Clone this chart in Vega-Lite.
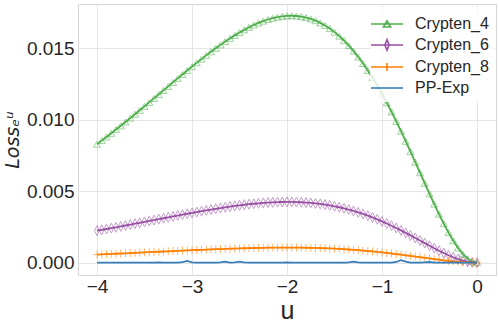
{
"$schema": "https://vega.github.io/schema/vega-lite/v6.json",
"width": 418, "height": 271,
"autosize": {"type": "none"},
"padding": {"left": 78, "top": 4, "right": 3, "bottom": 50},
"background": "white",
"config": {
  "font": "Liberation Sans",
  "view": {"stroke": "#d6d6d6", "strokeWidth": 1},
  "axis": {"grid": true, "gridColor": "#e5e5e5", "gridWidth": 1, "domain": false, "ticks": false, "labelFontSize": 19, "labelColor": "#262626", "labelFont": "Liberation Sans", "titleColor": "#262626", "titleFontWeight": "normal"}
},
"data": {"values": [
{"u":-4,"s":"Crypten_4","v":0.008293},{"u":-3.95,"s":"Crypten_4","v":0.008543},{"u":-3.9,"s":"Crypten_4","v":0.008796},{"u":-3.85,"s":"Crypten_4","v":0.009053},{"u":-3.8,"s":"Crypten_4","v":0.009314},{"u":-3.75,"s":"Crypten_4","v":0.009578},{"u":-3.7,"s":"Crypten_4","v":0.009845},{"u":-3.65,"s":"Crypten_4","v":0.010115},{"u":-3.6,"s":"Crypten_4","v":0.010387},{"u":-3.55,"s":"Crypten_4","v":0.010662},{"u":-3.5,"s":"Crypten_4","v":0.010938},{"u":-3.45,"s":"Crypten_4","v":0.011216},{"u":-3.4,"s":"Crypten_4","v":0.011495},{"u":-3.35,"s":"Crypten_4","v":0.011775},{"u":-3.3,"s":"Crypten_4","v":0.012055},{"u":-3.25,"s":"Crypten_4","v":0.012335},{"u":-3.2,"s":"Crypten_4","v":0.012615},{"u":-3.15,"s":"Crypten_4","v":0.012893},{"u":-3.1,"s":"Crypten_4","v":0.013169},{"u":-3.05,"s":"Crypten_4","v":0.013444},{"u":-3,"s":"Crypten_4","v":0.013715},{"u":-2.95,"s":"Crypten_4","v":0.013983},{"u":-2.9,"s":"Crypten_4","v":0.014246},{"u":-2.85,"s":"Crypten_4","v":0.014504},{"u":-2.8,"s":"Crypten_4","v":0.014757},{"u":-2.75,"s":"Crypten_4","v":0.015003},{"u":-2.7,"s":"Crypten_4","v":0.015241},{"u":-2.65,"s":"Crypten_4","v":0.015471},{"u":-2.6,"s":"Crypten_4","v":0.015693},{"u":-2.55,"s":"Crypten_4","v":0.015904},{"u":-2.5,"s":"Crypten_4","v":0.016104},{"u":-2.45,"s":"Crypten_4","v":0.016292},{"u":-2.4,"s":"Crypten_4","v":0.016467},{"u":-2.35,"s":"Crypten_4","v":0.016628},{"u":-2.3,"s":"Crypten_4","v":0.016774},{"u":-2.25,"s":"Crypten_4","v":0.016903},{"u":-2.2,"s":"Crypten_4","v":0.017016},{"u":-2.15,"s":"Crypten_4","v":0.017109},{"u":-2.1,"s":"Crypten_4","v":0.017183},{"u":-2.05,"s":"Crypten_4","v":0.017237},{"u":-2,"s":"Crypten_4","v":0.017268},{"u":-1.95,"s":"Crypten_4","v":0.017277},{"u":-1.9,"s":"Crypten_4","v":0.017261},{"u":-1.85,"s":"Crypten_4","v":0.017219},{"u":-1.8,"s":"Crypten_4","v":0.017152},{"u":-1.75,"s":"Crypten_4","v":0.017056},{"u":-1.7,"s":"Crypten_4","v":0.016932},{"u":-1.65,"s":"Crypten_4","v":0.016779},{"u":-1.6,"s":"Crypten_4","v":0.016595},{"u":-1.55,"s":"Crypten_4","v":0.016379},{"u":-1.5,"s":"Crypten_4","v":0.016131},{"u":-1.45,"s":"Crypten_4","v":0.01585},{"u":-1.4,"s":"Crypten_4","v":0.015536},{"u":-1.35,"s":"Crypten_4","v":0.015188},{"u":-1.3,"s":"Crypten_4","v":0.014806},{"u":-1.25,"s":"Crypten_4","v":0.01439},{"u":-1.2,"s":"Crypten_4","v":0.013939},{"u":-1.15,"s":"Crypten_4","v":0.013455},{"u":-1.1,"s":"Crypten_4","v":0.012937},{"u":-1.05,"s":"Crypten_4","v":0.012387},{"u":-1,"s":"Crypten_4","v":0.011805},{"u":-0.95,"s":"Crypten_4","v":0.011194},{"u":-0.9,"s":"Crypten_4","v":0.010555},{"u":-0.85,"s":"Crypten_4","v":0.00989},{"u":-0.8,"s":"Crypten_4","v":0.009203},{"u":-0.75,"s":"Crypten_4","v":0.008495},{"u":-0.7,"s":"Crypten_4","v":0.007772},{"u":-0.65,"s":"Crypten_4","v":0.007037},{"u":-0.6,"s":"Crypten_4","v":0.006297},{"u":-0.55,"s":"Crypten_4","v":0.005555},{"u":-0.5,"s":"Crypten_4","v":0.00482},{"u":-0.45,"s":"Crypten_4","v":0.004099},{"u":-0.4,"s":"Crypten_4","v":0.0034},{"u":-0.35,"s":"Crypten_4","v":0.002732},{"u":-0.3,"s":"Crypten_4","v":0.002107},{"u":-0.25,"s":"Crypten_4","v":0.001536},{"u":-0.2,"s":"Crypten_4","v":0.001031},{"u":-0.15,"s":"Crypten_4","v":0.000609},{"u":-0.1,"s":"Crypten_4","v":0.000284},{"u":-0.05,"s":"Crypten_4","v":0.000075},{"u":0,"s":"Crypten_4","v":0},
{"u":-4,"s":"Crypten_6","v":0.00224},{"u":-3.95,"s":"Crypten_6","v":0.002299},{"u":-3.9,"s":"Crypten_6","v":0.002359},{"u":-3.85,"s":"Crypten_6","v":0.002419},{"u":-3.8,"s":"Crypten_6","v":0.00248},{"u":-3.75,"s":"Crypten_6","v":0.002541},{"u":-3.7,"s":"Crypten_6","v":0.002603},{"u":-3.65,"s":"Crypten_6","v":0.002666},{"u":-3.6,"s":"Crypten_6","v":0.002729},{"u":-3.55,"s":"Crypten_6","v":0.002792},{"u":-3.5,"s":"Crypten_6","v":0.002856},{"u":-3.45,"s":"Crypten_6","v":0.00292},{"u":-3.4,"s":"Crypten_6","v":0.002983},{"u":-3.35,"s":"Crypten_6","v":0.003047},{"u":-3.3,"s":"Crypten_6","v":0.003111},{"u":-3.25,"s":"Crypten_6","v":0.003175},{"u":-3.2,"s":"Crypten_6","v":0.003238},{"u":-3.15,"s":"Crypten_6","v":0.003301},{"u":-3.1,"s":"Crypten_6","v":0.003363},{"u":-3.05,"s":"Crypten_6","v":0.003425},{"u":-3,"s":"Crypten_6","v":0.003486},{"u":-2.95,"s":"Crypten_6","v":0.003546},{"u":-2.9,"s":"Crypten_6","v":0.003605},{"u":-2.85,"s":"Crypten_6","v":0.003662},{"u":-2.8,"s":"Crypten_6","v":0.003718},{"u":-2.75,"s":"Crypten_6","v":0.003773},{"u":-2.7,"s":"Crypten_6","v":0.003826},{"u":-2.65,"s":"Crypten_6","v":0.003876},{"u":-2.6,"s":"Crypten_6","v":0.003925},{"u":-2.55,"s":"Crypten_6","v":0.003971},{"u":-2.5,"s":"Crypten_6","v":0.004014},{"u":-2.45,"s":"Crypten_6","v":0.004055},{"u":-2.4,"s":"Crypten_6","v":0.004092},{"u":-2.35,"s":"Crypten_6","v":0.004126},{"u":-2.3,"s":"Crypten_6","v":0.004157},{"u":-2.25,"s":"Crypten_6","v":0.004184},{"u":-2.2,"s":"Crypten_6","v":0.004206},{"u":-2.15,"s":"Crypten_6","v":0.004225},{"u":-2.1,"s":"Crypten_6","v":0.004239},{"u":-2.05,"s":"Crypten_6","v":0.004248},{"u":-2,"s":"Crypten_6","v":0.004251},{"u":-1.95,"s":"Crypten_6","v":0.00425},{"u":-1.9,"s":"Crypten_6","v":0.004242},{"u":-1.85,"s":"Crypten_6","v":0.004229},{"u":-1.8,"s":"Crypten_6","v":0.00421},{"u":-1.75,"s":"Crypten_6","v":0.004184},{"u":-1.7,"s":"Crypten_6","v":0.004151},{"u":-1.65,"s":"Crypten_6","v":0.004112},{"u":-1.6,"s":"Crypten_6","v":0.004065},{"u":-1.55,"s":"Crypten_6","v":0.004011},{"u":-1.5,"s":"Crypten_6","v":0.003949},{"u":-1.45,"s":"Crypten_6","v":0.00388},{"u":-1.4,"s":"Crypten_6","v":0.003802},{"u":-1.35,"s":"Crypten_6","v":0.003717},{"u":-1.3,"s":"Crypten_6","v":0.003624},{"u":-1.25,"s":"Crypten_6","v":0.003522},{"u":-1.2,"s":"Crypten_6","v":0.003412},{"u":-1.15,"s":"Crypten_6","v":0.003294},{"u":-1.1,"s":"Crypten_6","v":0.003168},{"u":-1.05,"s":"Crypten_6","v":0.003034},{"u":-1,"s":"Crypten_6","v":0.002893},{"u":-0.95,"s":"Crypten_6","v":0.002744},{"u":-0.9,"s":"Crypten_6","v":0.002589},{"u":-0.85,"s":"Crypten_6","v":0.002427},{"u":-0.8,"s":"Crypten_6","v":0.00226},{"u":-0.75,"s":"Crypten_6","v":0.002088},{"u":-0.7,"s":"Crypten_6","v":0.001911},{"u":-0.65,"s":"Crypten_6","v":0.001732},{"u":-0.6,"s":"Crypten_6","v":0.001551},{"u":-0.55,"s":"Crypten_6","v":0.00137},{"u":-0.5,"s":"Crypten_6","v":0.00119},{"u":-0.45,"s":"Crypten_6","v":0.001013},{"u":-0.4,"s":"Crypten_6","v":0.000841},{"u":-0.35,"s":"Crypten_6","v":0.000677},{"u":-0.3,"s":"Crypten_6","v":0.000522},{"u":-0.25,"s":"Crypten_6","v":0.000381},{"u":-0.2,"s":"Crypten_6","v":0.000256},{"u":-0.15,"s":"Crypten_6","v":0.000152},{"u":-0.1,"s":"Crypten_6","v":0.000071},{"u":-0.05,"s":"Crypten_6","v":0.000019},{"u":0,"s":"Crypten_6","v":0},
{"u":-4,"s":"Crypten_8","v":0.000569},{"u":-3.95,"s":"Crypten_8","v":0.000584},{"u":-3.9,"s":"Crypten_8","v":0.000599},{"u":-3.85,"s":"Crypten_8","v":0.000613},{"u":-3.8,"s":"Crypten_8","v":0.000628},{"u":-3.75,"s":"Crypten_8","v":0.000643},{"u":-3.7,"s":"Crypten_8","v":0.000659},{"u":-3.65,"s":"Crypten_8","v":0.000674},{"u":-3.6,"s":"Crypten_8","v":0.000689},{"u":-3.55,"s":"Crypten_8","v":0.000705},{"u":-3.5,"s":"Crypten_8","v":0.00072},{"u":-3.45,"s":"Crypten_8","v":0.000736},{"u":-3.4,"s":"Crypten_8","v":0.000752},{"u":-3.35,"s":"Crypten_8","v":0.000767},{"u":-3.3,"s":"Crypten_8","v":0.000783},{"u":-3.25,"s":"Crypten_8","v":0.000798},{"u":-3.2,"s":"Crypten_8","v":0.000814},{"u":-3.15,"s":"Crypten_8","v":0.000829},{"u":-3.1,"s":"Crypten_8","v":0.000844},{"u":-3.05,"s":"Crypten_8","v":0.00086},{"u":-3,"s":"Crypten_8","v":0.000874},{"u":-2.95,"s":"Crypten_8","v":0.000889},{"u":-2.9,"s":"Crypten_8","v":0.000903},{"u":-2.85,"s":"Crypten_8","v":0.000917},{"u":-2.8,"s":"Crypten_8","v":0.000931},{"u":-2.75,"s":"Crypten_8","v":0.000944},{"u":-2.7,"s":"Crypten_8","v":0.000957},{"u":-2.65,"s":"Crypten_8","v":0.000969},{"u":-2.6,"s":"Crypten_8","v":0.000981},{"u":-2.55,"s":"Crypten_8","v":0.000992},{"u":-2.5,"s":"Crypten_8","v":0.001002},{"u":-2.45,"s":"Crypten_8","v":0.001012},{"u":-2.4,"s":"Crypten_8","v":0.001021},{"u":-2.35,"s":"Crypten_8","v":0.001029},{"u":-2.3,"s":"Crypten_8","v":0.001037},{"u":-2.25,"s":"Crypten_8","v":0.001043},{"u":-2.2,"s":"Crypten_8","v":0.001049},{"u":-2.15,"s":"Crypten_8","v":0.001053},{"u":-2.1,"s":"Crypten_8","v":0.001056},{"u":-2.05,"s":"Crypten_8","v":0.001058},{"u":-2,"s":"Crypten_8","v":0.001059},{"u":-1.95,"s":"Crypten_8","v":0.001058},{"u":-1.9,"s":"Crypten_8","v":0.001056},{"u":-1.85,"s":"Crypten_8","v":0.001053},{"u":-1.8,"s":"Crypten_8","v":0.001048},{"u":-1.75,"s":"Crypten_8","v":0.001041},{"u":-1.7,"s":"Crypten_8","v":0.001033},{"u":-1.65,"s":"Crypten_8","v":0.001023},{"u":-1.6,"s":"Crypten_8","v":0.001011},{"u":-1.55,"s":"Crypten_8","v":0.000998},{"u":-1.5,"s":"Crypten_8","v":0.000982},{"u":-1.45,"s":"Crypten_8","v":0.000965},{"u":-1.4,"s":"Crypten_8","v":0.000946},{"u":-1.35,"s":"Crypten_8","v":0.000924},{"u":-1.3,"s":"Crypten_8","v":0.000901},{"u":-1.25,"s":"Crypten_8","v":0.000876},{"u":-1.2,"s":"Crypten_8","v":0.000849},{"u":-1.15,"s":"Crypten_8","v":0.000819},{"u":-1.1,"s":"Crypten_8","v":0.000788},{"u":-1.05,"s":"Crypten_8","v":0.000755},{"u":-1,"s":"Crypten_8","v":0.00072},{"u":-0.95,"s":"Crypten_8","v":0.000683},{"u":-0.9,"s":"Crypten_8","v":0.000644},{"u":-0.85,"s":"Crypten_8","v":0.000604},{"u":-0.8,"s":"Crypten_8","v":0.000563},{"u":-0.75,"s":"Crypten_8","v":0.00052},{"u":-0.7,"s":"Crypten_8","v":0.000476},{"u":-0.65,"s":"Crypten_8","v":0.000431},{"u":-0.6,"s":"Crypten_8","v":0.000386},{"u":-0.55,"s":"Crypten_8","v":0.000341},{"u":-0.5,"s":"Crypten_8","v":0.000297},{"u":-0.45,"s":"Crypten_8","v":0.000252},{"u":-0.4,"s":"Crypten_8","v":0.00021},{"u":-0.35,"s":"Crypten_8","v":0.000169},{"u":-0.3,"s":"Crypten_8","v":0.00013},{"u":-0.25,"s":"Crypten_8","v":0.000095},{"u":-0.2,"s":"Crypten_8","v":0.000064},{"u":-0.15,"s":"Crypten_8","v":0.000038},{"u":-0.1,"s":"Crypten_8","v":0.000018},{"u":-0.05,"s":"Crypten_8","v":0.000005},{"u":0,"s":"Crypten_8","v":0},
{"u":-4,"s":"PP-Exp","v":0},{"u":-3.95,"s":"PP-Exp","v":0},{"u":-3.9,"s":"PP-Exp","v":0},{"u":-3.85,"s":"PP-Exp","v":0},{"u":-3.8,"s":"PP-Exp","v":0},{"u":-3.75,"s":"PP-Exp","v":0},{"u":-3.7,"s":"PP-Exp","v":0},{"u":-3.65,"s":"PP-Exp","v":0},{"u":-3.6,"s":"PP-Exp","v":0},{"u":-3.55,"s":"PP-Exp","v":0},{"u":-3.5,"s":"PP-Exp","v":0},{"u":-3.45,"s":"PP-Exp","v":0},{"u":-3.4,"s":"PP-Exp","v":0},{"u":-3.35,"s":"PP-Exp","v":0.00002},{"u":-3.3,"s":"PP-Exp","v":0},{"u":-3.25,"s":"PP-Exp","v":0},{"u":-3.2,"s":"PP-Exp","v":0},{"u":-3.15,"s":"PP-Exp","v":0},{"u":-3.1,"s":"PP-Exp","v":0.00004},{"u":-3.05,"s":"PP-Exp","v":0.00012},{"u":-3,"s":"PP-Exp","v":0.00002},{"u":-2.95,"s":"PP-Exp","v":0},{"u":-2.9,"s":"PP-Exp","v":0},{"u":-2.85,"s":"PP-Exp","v":0},{"u":-2.8,"s":"PP-Exp","v":0},{"u":-2.75,"s":"PP-Exp","v":0},{"u":-2.7,"s":"PP-Exp","v":0.00003},{"u":-2.65,"s":"PP-Exp","v":0.00007},{"u":-2.6,"s":"PP-Exp","v":0.00001},{"u":-2.55,"s":"PP-Exp","v":0.00003},{"u":-2.5,"s":"PP-Exp","v":0.00008},{"u":-2.45,"s":"PP-Exp","v":0.00002},{"u":-2.4,"s":"PP-Exp","v":0},{"u":-2.35,"s":"PP-Exp","v":0},{"u":-2.3,"s":"PP-Exp","v":0},{"u":-2.25,"s":"PP-Exp","v":0},{"u":-2.2,"s":"PP-Exp","v":0},{"u":-2.15,"s":"PP-Exp","v":0},{"u":-2.1,"s":"PP-Exp","v":0},{"u":-2.05,"s":"PP-Exp","v":0},{"u":-2,"s":"PP-Exp","v":0.00002},{"u":-1.95,"s":"PP-Exp","v":0},{"u":-1.9,"s":"PP-Exp","v":0},{"u":-1.85,"s":"PP-Exp","v":0},{"u":-1.8,"s":"PP-Exp","v":0},{"u":-1.75,"s":"PP-Exp","v":0},{"u":-1.7,"s":"PP-Exp","v":0},{"u":-1.65,"s":"PP-Exp","v":0},{"u":-1.6,"s":"PP-Exp","v":0},{"u":-1.55,"s":"PP-Exp","v":0},{"u":-1.5,"s":"PP-Exp","v":0},{"u":-1.45,"s":"PP-Exp","v":0},{"u":-1.4,"s":"PP-Exp","v":0},{"u":-1.35,"s":"PP-Exp","v":0.00002},{"u":-1.3,"s":"PP-Exp","v":0.00007},{"u":-1.25,"s":"PP-Exp","v":0.00002},{"u":-1.2,"s":"PP-Exp","v":0},{"u":-1.15,"s":"PP-Exp","v":0},{"u":-1.1,"s":"PP-Exp","v":0},{"u":-1.05,"s":"PP-Exp","v":0},{"u":-1,"s":"PP-Exp","v":0},{"u":-0.95,"s":"PP-Exp","v":0},{"u":-0.9,"s":"PP-Exp","v":0},{"u":-0.85,"s":"PP-Exp","v":0.00005},{"u":-0.8,"s":"PP-Exp","v":0.00018},{"u":-0.75,"s":"PP-Exp","v":0.00008},{"u":-0.7,"s":"PP-Exp","v":0},{"u":-0.65,"s":"PP-Exp","v":0},{"u":-0.6,"s":"PP-Exp","v":0},{"u":-0.55,"s":"PP-Exp","v":0.00003},{"u":-0.5,"s":"PP-Exp","v":0.00005},{"u":-0.45,"s":"PP-Exp","v":0},{"u":-0.4,"s":"PP-Exp","v":0},{"u":-0.35,"s":"PP-Exp","v":0},{"u":-0.3,"s":"PP-Exp","v":0},{"u":-0.25,"s":"PP-Exp","v":0.00002},{"u":-0.2,"s":"PP-Exp","v":0},{"u":-0.15,"s":"PP-Exp","v":0},{"u":-0.1,"s":"PP-Exp","v":0},{"u":-0.05,"s":"PP-Exp","v":0},{"u":0,"s":"PP-Exp","v":0}
]},
"layer": [
  {
    "transform": [{"filter": "datum.s !== 'PP-Exp'"}],
    "mark": {"type": "point", "filled": false, "strokeWidth": 1, "opacity": 0.55, "size": 100},
    "encoding": {
      "x": {"field": "u", "type": "quantitative", "scale": {"domain": [-4.2, 0.2], "nice": false, "zero": false}, "axis": {"values": [-4, -3, -2, -1, 0], "format": "d", "title": "u", "titleFontSize": 25, "titleFont": "Liberation Sans", "labelPadding": 2, "titlePadding": 2}},
      "y": {"field": "v", "type": "quantitative", "scale": {"domain": [-0.00086, 0.0181], "nice": false, "zero": false}, "axis": {"values": [0, 0.005, 0.01, 0.015], "format": ".3f", "title": "Lossₑᵘ", "titleFont": "DejaVu Sans", "titleFontStyle": "italic", "titleFontSize": 19, "labelPadding": 4, "titlePadding": 4}},
      "color": {"field": "s", "type": "nominal", "scale": {"domain": ["Crypten_4", "Crypten_6", "Crypten_8", "PP-Exp"], "range": ["#4daf4a", "#984ea3", "#ff7f00", "#377eb8"]}, "legend": null},
      "shape": {"field": "s", "type": "nominal", "scale": {"domain": ["Crypten_4", "Crypten_6", "Crypten_8"], "range": ["M0,-0.6L0.7,0.6L-0.7,0.6Z", "M0,-1L0.5,0L0,1L-0.5,0Z", "M-0.8,0L0.8,0M0,-0.8L0,0.8"]}, "legend": null}
    }
  },
  {
    "mark": {"type": "line", "strokeWidth": 1.8},
    "encoding": {
      "x": {"field": "u", "type": "quantitative"},
      "y": {"field": "v", "type": "quantitative"},
      "color": {"field": "s", "type": "nominal", "scale": {"domain": ["Crypten_4", "Crypten_6", "Crypten_8", "PP-Exp"], "range": ["#4daf4a", "#984ea3", "#ff7f00", "#377eb8"]},
        "legend": {"title": null, "orient": "none", "legendX": 292, "legendY": 3, "labelFontSize": 16, "labelFont": "Liberation Sans", "labelColor": "#262626", "symbolSize": 400, "symbolStrokeWidth": 1.6, "labelOffset": 17, "rowPadding": 2, "padding": 6, "fillColor": "rgba(255,255,255,0.8)",
          "encode": {"symbols": {"update": {"shape": {"signal": "datum.value === 'Crypten_4' ? 'M-1.6,0L1.6,0M0,-0.32L0.35,0.3L-0.35,0.3Z' : datum.value === 'Crypten_6' ? 'M-1.6,0L1.6,0M0,-0.54L0.21,0L0,0.54L-0.21,0Z' : datum.value === 'Crypten_8' ? 'M-1.6,0L1.6,0M0,-0.4L0,0.4' : 'M-1.6,0L1.6,0'"}, "size": {"value": 400}, "fill": {"value": "transparent"}}}}}}
    }
  }
],
"resolve": {"legend": {"color": "independent", "shape": "independent"}}
}
